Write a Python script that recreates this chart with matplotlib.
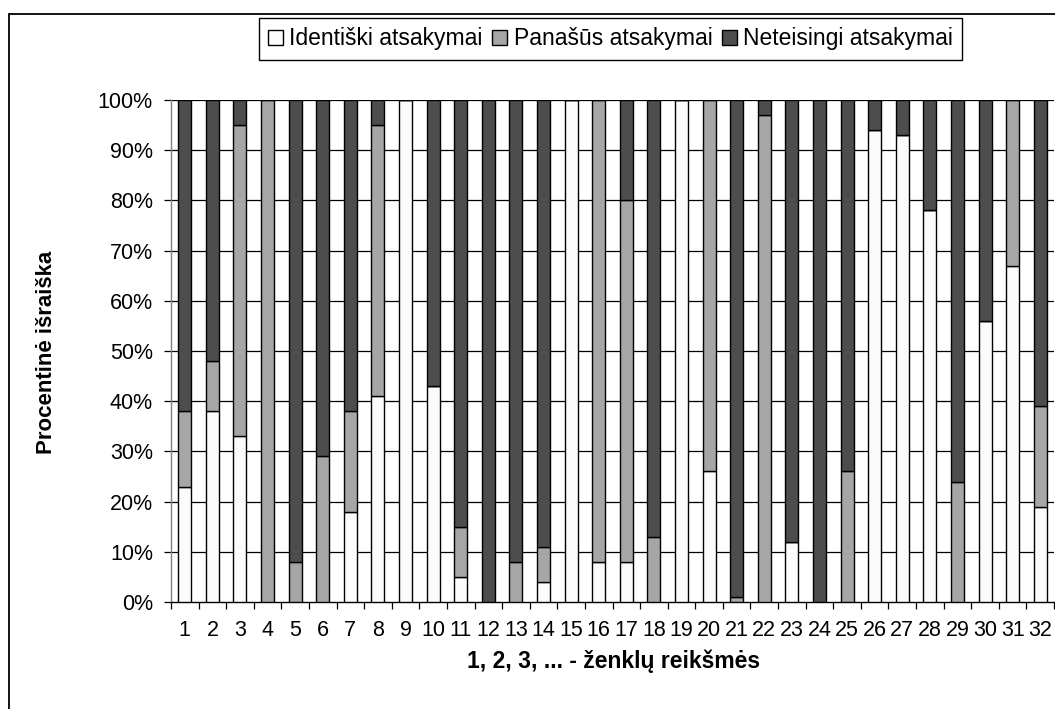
import matplotlib
matplotlib.use("Agg")
import matplotlib.pyplot as plt
import numpy as np
from matplotlib.patches import Rectangle, Patch
from matplotlib.ticker import FixedLocator, FuncFormatter

plt.rcParams['font.family'] = ['Liberation Sans', 'DejaVu Sans']

# duomenys (procentai)
categories = [str(i) for i in range(1, 33)]
identiski = [23, 38, 33, 0, 0, 0, 18, 41, 100, 43, 5, 0, 0, 4, 100, 8,
             8, 0, 100, 26, 0, 0, 12, 0, 0, 94, 93, 78, 0, 56, 67, 19]
panasus = [15, 10, 62, 100, 8, 29, 20, 54, 0, 0, 10, 0, 8, 7, 0, 92,
           72, 13, 0, 74, 1, 97, 0, 0, 26, 0, 0, 0, 24, 0, 33, 20]
neteisingi = [62, 52, 5, 0, 92, 71, 62, 5, 0, 57, 85, 100, 92, 89, 0, 0,
              20, 87, 0, 0, 99, 3, 88, 100, 74, 6, 7, 22, 76, 44, 0, 61]
series_names = ["Identiški atsakymai", "Panašūs atsakymai", "Neteisingi atsakymai"]
colors = ["#fbfbfb", "#a6a6a6", "#4d4d4d"]
yticks = list(range(0, 101, 10))

fig = plt.figure(figsize=(10.55, 7.09), dpi=100)
ax = fig.add_axes([171/1055, 1 - 602/709, 883/1055, 502/709])

x = np.arange(len(categories))
bottom = np.zeros(len(categories))
for vals, col in zip([identiski, panasus, neteisingi], colors):
    vals = np.array(vals, dtype=float)
    ax.bar(x, vals, width=0.47, bottom=bottom, color=col,
           edgecolor="black", linewidth=1.0, zorder=3)
    bottom += vals

ax.set_xlim(-0.5, len(categories) - 0.5)
ax.set_ylim(0, 100)

# tinklelis
for t in yticks[1:]:
    ax.axhline(t, color="black", linewidth=0.9, zorder=1)

ax.set_yticks(yticks)
ax.yaxis.set_major_formatter(FuncFormatter(lambda v, p: f"{int(v)}%"))
ax.tick_params(axis="y", length=5, width=0.9, pad=8, labelsize=15.5, direction="out")

ax.set_xticks(x)
ax.set_xticklabels(categories)
ax.xaxis.set_minor_locator(FixedLocator(np.arange(-0.5, len(categories), 1.0)))
ax.tick_params(axis="x", which="major", length=0, pad=13, labelsize=15.5)
ax.tick_params(axis="x", which="minor", length=5, width=0.9, direction="out")

for s in ["top", "right"]:
    ax.spines[s].set_visible(False)
ax.spines["left"].set_color("#808080")
ax.spines["bottom"].set_color("black")
ax.spines["left"].set_linewidth(1.0)
ax.spines["bottom"].set_linewidth(1.0)

ax.set_ylabel("Procentinė išraiška", fontsize=16, fontweight="bold", va="center")
ax.yaxis.set_label_coords((47 - 171) / 883, (602 - 352) / 502)
ax.set_xlabel("1, 2, 3, ... - ženklų reikšmės", fontsize=16.5, fontweight="bold", va="center")
ax.xaxis.set_label_coords((614 - 171) / 883, (602 - 661) / 502)

handles = [Patch(facecolor=c, edgecolor="black", linewidth=1.0) for c in colors]
leg = fig.legend(handles, series_names, loc="center",
                 bbox_to_anchor=(610.5 / 1055, 1 - 39 / 709), ncol=3,
                 frameon=True, fancybox=False, edgecolor="black", framealpha=1,
                 fontsize=16.5, handlelength=0.65, handleheight=0.65,
                 handletextpad=0.3, columnspacing=0.4, borderpad=0.4,
                 borderaxespad=0)
leg.get_frame().set_linewidth(1.0)

# rėmelis aplink diagramą
fig.patches.append(Rectangle((9 / 1055, -0.5), 2, 0.5 + (1 - 14 / 709),
                             transform=fig.transFigure, fill=False,
                             edgecolor="black", linewidth=1.3, clip_on=False))

fig.savefig("out.png", dpi=100)
